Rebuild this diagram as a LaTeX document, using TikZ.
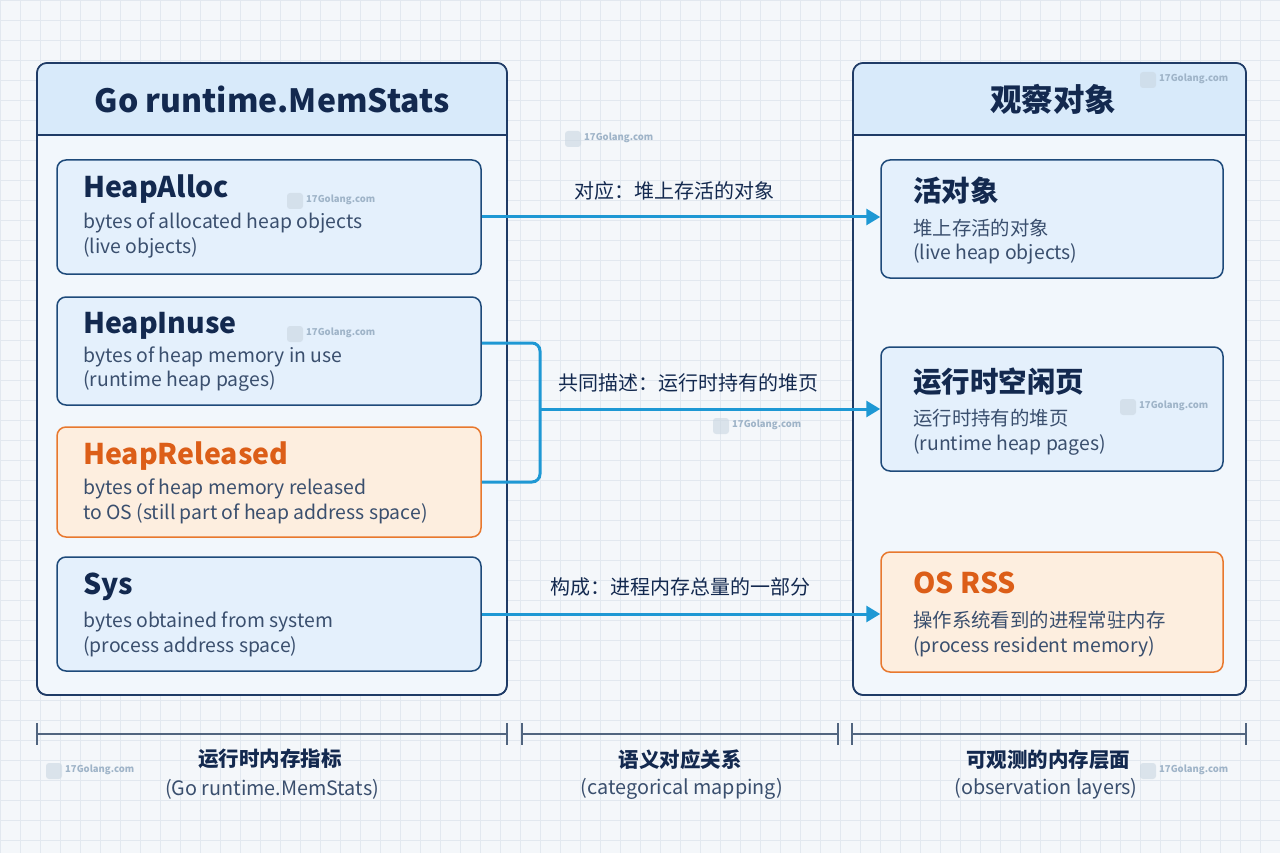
\documentclass[tikz,border=0pt]{standalone}
\usepackage{fontspec}
\setmainfont{Noto Sans CJK SC}
\usetikzlibrary{arrows.meta,calc}
\definecolor{bgc}{HTML}{F4F7FA}
\definecolor{gridc}{HTML}{E2E8EF}
\definecolor{navy}{HTML}{13294F}
\definecolor{border}{HTML}{1F3B66}
\definecolor{panelfill}{HTML}{F2F7FC}
\definecolor{headfill}{HTML}{D8EAFA}
\definecolor{boxfill}{HTML}{E4F0FC}
\definecolor{boxline}{HTML}{1E4A7A}
\definecolor{subtxt}{HTML}{3A4F6E}
\definecolor{orl}{HTML}{E8782E}
\definecolor{ortxt}{HTML}{DC5E18}
\definecolor{orfill}{HTML}{FDEEDF}
\definecolor{arrc}{HTML}{1E98D4}
\definecolor{dimc}{HTML}{51657F}
\definecolor{wmc}{HTML}{9FB4C8}
\tikzset{
  panel/.style={draw=border, line width=1.6pt, rounded corners=10pt, fill=panelfill},
  bluebox/.style={draw=boxline, line width=1.5pt, rounded corners=9pt, fill=boxfill},
  orbox/.style={draw=orl, line width=1.5pt, rounded corners=9pt, fill=orfill},
  ttl/.style={anchor=west, font=\fontsize{28.5}{30}\selectfont\bfseries, text=navy, inner sep=0pt},
  ottl/.style={ttl, text=ortxt},
  sub/.style={anchor=west, font=\fontsize{19.4}{22}\selectfont, text=subtxt, inner sep=0pt},
  conn/.style={draw=arrc, line width=3pt},
  arr/.style={conn, -{Triangle[length=14pt,width=16pt]}},
  lbl/.style={font=\fontsize{20}{22}\selectfont, text=navy, inner sep=0pt},
  dim/.style={draw=dimc, line width=1.3pt},
  blab/.style={font=\fontsize{20.5}{22}\selectfont\bfseries, text=navy, inner sep=0pt},
  blab2/.style={font=\fontsize{19.8}{22}\selectfont, text=subtxt, inner sep=0pt},
  wm/.style={font=\fontsize{9.5}{10}\selectfont\bfseries, text=wmc, anchor=west, inner sep=0pt},
  wmi/.style={fill=wmc!55, rounded corners=3pt, minimum size=16pt, inner sep=0pt}
}
\begin{document}
\begin{tikzpicture}[x=1pt,y=-1pt]
\useasboundingbox (0,0) rectangle (1280,853);
\fill[bgc] (0,0) rectangle (1280,853);
\draw[gridc, line width=0.6pt, step=20pt] (0,0) grid (1280,853);

% panels
\node[panel, minimum width=470pt, minimum height=632pt, inner sep=0pt] (lp) at (272,379) {};
\node[panel, minimum width=393pt, minimum height=632pt, inner sep=0pt] (rp) at (1049.5,379) {};
\begin{scope}
\clip[rounded corners=10pt] (37,63) rectangle (507,695);
\fill[headfill] (37,63) rectangle (507,135);
\end{scope}
\begin{scope}
\clip[rounded corners=10pt] (853,63) rectangle (1246,695);
\fill[headfill] (853,63) rectangle (1246,135);
\end{scope}
\draw[border, line width=1.6pt, rounded corners=10pt] (37,63) rectangle (507,695);
\draw[border, line width=1.6pt, rounded corners=10pt] (853,63) rectangle (1246,695);
\draw[border, line width=1.6pt] (37,135) -- (507,135);
\draw[border, line width=1.6pt] (853,135) -- (1246,135);
\node[font=\fontsize{32}{36}\selectfont\bfseries, text=navy, inner sep=0pt] (lt) at (272,99) {Go runtime.MemStats};
\node[font=\fontsize{31.5}{36}\selectfont\bfseries, text=navy, inner sep=0pt] (rt) at (1053,99) {观察对象};

% left boxes
\node[bluebox, minimum width=424pt, minimum height=114pt, inner sep=0pt] (ha) at (269,217) {};
\node[bluebox, minimum width=424pt, minimum height=108pt, inner sep=0pt] (hi) at (269,351) {};
\node[orbox, minimum width=424pt, minimum height=110pt, inner sep=0pt] (hr) at (269,482) {};
\node[bluebox, minimum width=424pt, minimum height=114pt, inner sep=0pt] (sys) at (269,614) {};

\node[ttl] (hat) at (83,189) {HeapAlloc};
\node[sub] (has1) at (83,223) {bytes of allocated heap objects};
\node[sub] (has2) at (83,248) {(live objects)};
\node[ttl] (hit) at (83,326) {HeapInuse};
\node[sub] (his1) at (83,357) {bytes of heap memory in use};
\node[sub] (his2) at (83,381) {(runtime heap pages)};
\node[ottl] (hrt) at (83,456) {HeapReleased};
\node[sub] (hrs1) at (83,489) {bytes of heap memory released};
\node[sub] (hrs2) at (83,514) {to OS (still part of heap address space)};
\node[ttl] (syst) at (83,587) {Sys};
\node[sub] (syss1) at (83,622) {bytes obtained from system};
\node[sub] (syss2) at (83,647) {(process address space)};

% right boxes
\node[bluebox, minimum width=342pt, minimum height=118pt, inner sep=0pt] (lo) at (1052,219) {};
\node[bluebox, minimum width=342pt, minimum height=124pt, inner sep=0pt] (fp) at (1052,409) {};
\node[orbox, minimum width=342pt, minimum height=120pt, inner sep=0pt] (rss) at (1052,612) {};

\node[ttl] (lot) at (913,191) {活对象};
\node[sub] (los1) at (913,228) {堆上存活的对象};
\node[sub] (los2) at (913,254) {(live heap objects)};
\node[ttl] (fpt) at (913,382) {运行时空闲页};
\node[sub] (fps1) at (913,418) {运行时持有的堆页};
\node[sub] (fps2) at (913,445) {(runtime heap pages)};
\node[ottl] (rsst) at (913,583) {OS RSS};
\node[sub] (rsss1) at (913,620) {操作系统看到的进程常驻内存};
\node[sub] (rsss2) at (913,647) {(process resident memory)};

% connectors
\draw[arr] (ha.east) -- (ha.east -| lo.west);
\coordinate (j) at (540,409);
\draw[conn, rounded corners=8pt] ([yshift=8pt]hi.east) -| (j) |- (hr.east);
\draw[arr] (j) -- (j -| fp.west);
\draw[arr] (sys.east) -- (sys.east -| rss.west);
\node[lbl] (l1) at (674,191) {对应：堆上存活的对象};
\node[lbl] (l2) at (688,383) {共同描述：运行时持有的堆页};
\node[lbl] (l3) at (680,587) {构成：进程内存总量的一部分};

% bottom dimension lines
\coordinate (d1a) at (37,734); \coordinate (d1b) at (507,734);
\coordinate (d2a) at (522,734); \coordinate (d2b) at (838,734);
\coordinate (d3a) at (852,734); \coordinate (d3b) at (1246,734);
\foreach \a/\b in {d1a/d1b,d2a/d2b,d3a/d3b}{
  \draw[dim] (\a) -- (\b);
  \draw[dim] ([yshift=11pt]\a) -- ([yshift=-11pt]\a);
  \draw[dim] ([yshift=11pt]\b) -- ([yshift=-11pt]\b);
}
\node[blab] (b1) at (270,759) {运行时内存指标};
\node[blab2] (b1s) at (272,789) {(Go runtime.MemStats)};
\node[blab] (b2) at (680,760) {语义对应关系};
\node[blab2] (b2s) at (682,789) {(categorical mapping)};
\node[blab] (b3) at (1048,760) {可观测的内存层面};
\node[blab2] (b3s) at (1046,789) {(observation layers)};

% watermarks
\foreach \x/\y [count=\i] in {573/139, 295/201, 295/334, 1148/80, 721/426, 1128/407, 54/771, 1148/771}{
  \node[wmi, opacity=0.6] (wi\i) at (\x,\y) {};
  \node[wm] (wt\i) at (\x+11,\y-1) {17Golang.com};
}
\end{tikzpicture}
\end{document}
